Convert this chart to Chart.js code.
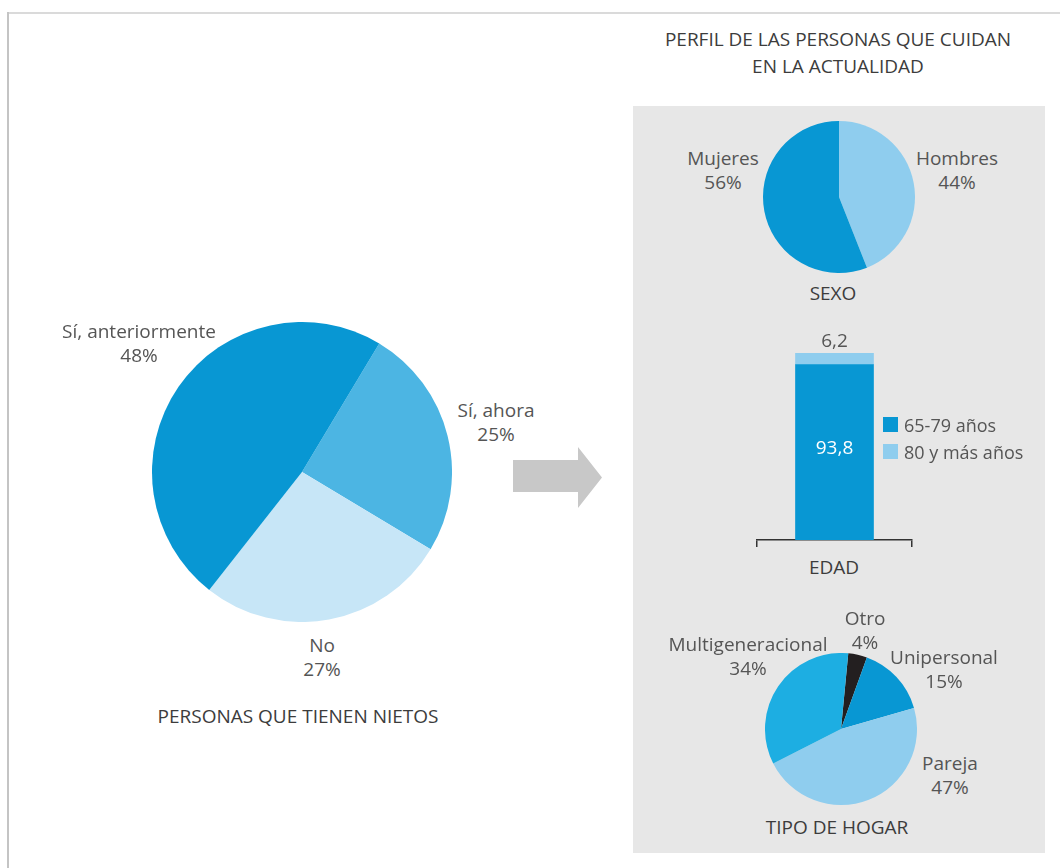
<!DOCTYPE html>
<html lang="es">
<head>
<meta charset="utf-8">
<title>Personas que tienen nietos</title>
<script src="https://cdn.jsdelivr.net/npm/chart.js@4.4.0/dist/chart.umd.min.js"></script>
<style>
  html, body { margin: 0; padding: 0; background: #fff; }
  #stage { position: relative; width: 1060px; height: 868px; overflow: hidden; font-family: "Open Sans", "Noto Sans", sans-serif; }
  .frame-top { position: absolute; left: 7px; top: 12px; width: 1053px; height: 2px; background: #dadada; }
  .frame-left { position: absolute; left: 7px; top: 12px; width: 2px; height: 856px; background: #c4c4c4; }
  .panel { position: absolute; left: 633px; top: 106px; width: 412px; height: 747px; background: #e7e7e7; }
  .arrow { position: absolute; left: 513px; top: 447px; width: 89px; height: 61px; background: #c8c8c8;
           clip-path: polygon(0 13px, 65px 13px, 65px 0, 89px 30.5px, 65px 61px, 65px 45px, 0 45px); }
  .box { position: absolute; }
  .lbl { position: absolute; transform: translate(-50%, -50%); white-space: pre; text-align: center; font-size: 19px; line-height: 1; color: #555; }
  .two { line-height: 24px; }
  .ttl { color: #3c3c3c; }
  .ttl2 { line-height: 27px; }
  .leg { position: absolute; white-space: nowrap; font-size: 18px; line-height: 1; color: #555; transform: translateY(-50%); }
  .sw { position: absolute; width: 15px; height: 15px; }
</style>
</head>
<body>
<div id="stage">
  <div class="frame-top"></div>
  <div class="frame-left"></div>
  <div class="panel"></div>
  <div class="arrow"></div>
  <div class="box" style="left:152px; top:322px; width:300px; height:300px;"><canvas id="nietos"></canvas></div>
  <div class="box" style="left:763px; top:121px; width:152px; height:152px;"><canvas id="sexo"></canvas></div>
  <div class="box" style="left:755px; top:331px; width:159px; height:218px;"><canvas id="edad"></canvas></div>
  <div class="box" style="left:765px; top:653px; width:152px; height:152px;"><canvas id="hogar"></canvas></div>
</div>
<script>
// Personas que tienen nietos
const nietosLabels = ['Sí, ahora', 'No', 'Sí, anteriormente'];
const nietosValues = [25, 27, 48];
const nietosColors = ['#4cb5e3', '#c7e6f7', '#0897d3'];

// Perfil: sexo
const sexoLabels = ['Hombres', 'Mujeres'];
const sexoValues = [44, 56];
const sexoColors = ['#8fcdee', '#0897d3'];

// Perfil: edad
const edadLabels = ['65-79 años', '80 y más años'];
const edadValues = [93.8, 6.2];
const edadColors = ['#0897d3', '#8fcdee'];

// Perfil: tipo de hogar
const hogarLabels = ['Otro', 'Unipersonal', 'Pareja', 'Multigeneracional'];
const hogarValues = [4, 15, 47, 34];
const hogarColors = ['#231f20', '#0897d3', '#8fcdee', '#1daee2'];

const stage = document.getElementById('stage');

function addText(text, x, y, cls) {
  const d = document.createElement('div');
  d.className = 'lbl' + (cls ? ' ' + cls : '');
  d.textContent = text;
  d.style.left = x + 'px';
  d.style.top = y + 'px';
  stage.appendChild(d);
}

// name + percentage next to each slice, one block per slice centred on [x, y]
function pieLabels(labels, values, pos) {
  labels.forEach(function (l, i) {
    addText(l + '\n' + values[i] + '%', pos[i][0], pos[i][1], 'two');
  });
}

function pie(id, labels, values, colors, rotation) {
  return new Chart(document.getElementById(id), {
    type: 'pie',
    data: {
      labels: labels,
      datasets: [{ data: values, backgroundColor: colors, borderWidth: 0 }]
    },
    options: {
      responsive: true,
      maintainAspectRatio: false,
      animation: false,
      rotation: rotation,
      layout: { padding: 0 },
      plugins: { legend: { display: false }, tooltip: { enabled: false } }
    }
  });
}

pie('nietos', nietosLabels, nietosValues, nietosColors, 31);
pie('sexo', sexoLabels, sexoValues, sexoColors, 0);
pie('hogar', hogarLabels, hogarValues, hogarColors, 5.5);

// value labels on the stacked bar: first segment inside, second above
const barValues = {
  id: 'barValues',
  afterDatasetsDraw: function (chart) {
    const ctx = chart.ctx;
    ctx.save();
    ctx.font = '19px "Open Sans", sans-serif';
    ctx.textAlign = 'center';
    ctx.textBaseline = 'middle';
    chart.data.datasets.forEach(function (ds, i) {
      const bar = chart.getDatasetMeta(i).data[0];
      const txt = String(ds.data[0]).replace('.', ',');
      if (i === 0) {
        ctx.fillStyle = '#ffffff';
        ctx.fillText(txt, bar.x, (bar.y + bar.base) / 2 - 4);
      } else {
        ctx.fillStyle = '#555555';
        ctx.fillText(txt, bar.x, bar.y - 11);
      }
    });
    ctx.restore();
  }
};

new Chart(document.getElementById('edad'), {
  type: 'bar',
  data: {
    labels: ['EDAD'],
    datasets: edadLabels.map(function (l, i) {
      return { label: l, data: [edadValues[i]], backgroundColor: edadColors[i], borderWidth: 0, barThickness: 78 };
    })
  },
  options: {
    responsive: true,
    maintainAspectRatio: false,
    animation: false,
    layout: { padding: { top: 22, left: 2, right: 2, bottom: 2 } },
    plugins: { legend: { display: false }, tooltip: { enabled: false } },
    scales: {
      x: {
        stacked: true,
        offset: true,
        ticks: { display: false },
        grid: { offset: true, drawOnChartArea: false, drawTicks: true, tickLength: 7, color: '#333', lineWidth: 1.5 },
        border: { display: true, color: '#333', width: 1.5 }
      },
      y: { stacked: true, min: 0, max: 100, display: false }
    }
  },
  plugins: [barValues]
});

// legend for the bar
edadLabels.forEach(function (l, i) {
  const sw = document.createElement('div');
  sw.className = 'sw';
  sw.style.background = edadColors[i];
  sw.style.left = '883px';
  sw.style.top = (417 + i * 27) + 'px';
  stage.appendChild(sw);
  const t = document.createElement('div');
  t.className = 'leg';
  t.textContent = l;
  t.style.left = '904px';
  t.style.top = (425 + i * 27) + 'px';
  stage.appendChild(t);
});

// titles and captions
addText('PERFIL DE LAS PERSONAS QUE CUIDAN\nEN LA ACTUALIDAD', 838, 52.5, 'ttl ttl2');
addText('PERSONAS QUE TIENEN NIETOS', 298, 716, 'ttl');
addText('SEXO', 833, 293, 'ttl');
addText('EDAD', 834, 567, 'ttl');
addText('TIPO DE HOGAR', 837, 827, 'ttl');

pieLabels(nietosLabels, nietosValues, [[496, 421.5], [322, 656.5], [139, 342.5]]);
pieLabels(sexoLabels, sexoValues, [[957, 169.5], [723, 169.5]]);
pieLabels(hogarLabels, hogarValues, [[865, 629.5], [944, 669], [950, 775], [748, 655.5]]);
</script>
</body>
</html>
